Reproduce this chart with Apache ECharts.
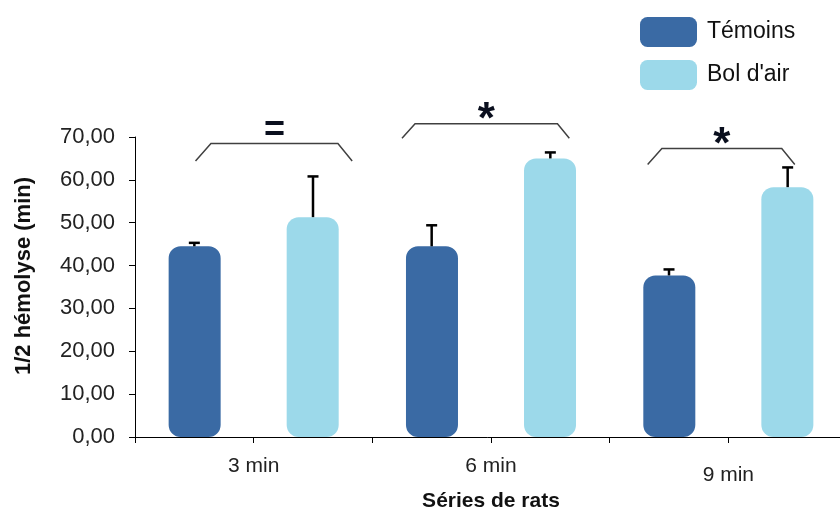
<!DOCTYPE html>
<html>
<head>
<meta charset="utf-8">
<title>Demi-hémolyse</title>
<script src="https://cdn.jsdelivr.net/npm/echarts@6.0.0/dist/echarts.min.js"></script>
<style>
  html, body { margin: 0; padding: 0; background: #fff; }
  #myChart { width: 840px; height: 508px; }
</style>
</head>
<body>
<div id="myChart"></div>
<script>
  // séries de rats
  var categories = ['3 min', '6 min', '9 min'];
  var temoins = [44.5, 44.5, 37.7];
  var temoinsErr = [0.8, 4.9, 1.4];
  var bolAir = [51.3, 65.0, 58.3];
  var bolAirErr = [9.5, 1.4, 4.6];

  // accolades de significativité (x en demi-catégories sur l'axe secondaire)
  var sigLabels = ['=', '*', '*'];
  var sigFootX = [[0.51, 1.83], [2.25, 3.66], [4.32, 5.56]];
  var sigTopX = [[0.64, 1.71], [2.36, 3.56], [4.44, 5.45]];
  var sigTopY = [68.5, 73.1, 67.3];
  var sigFootY = [64.4, 69.7, 63.6];

  var FONT = '"Liberation Sans", Arial, sans-serif';
  var DARK = '#3A6AA4';
  var LIGHT = '#9CD9EA';

  function errorBar(side) {
    return function (params, api) {
      var base = api.coord([api.value(0), api.value(1)]);
      var top = api.coord([api.value(0), api.value(2)]);
      var x = base[0] + api.size([1, 0])[0] * 0.25 * side;
      var st = { stroke: '#000', lineWidth: 2.5 };
      return {
        type: 'group',
        children: [
          { type: 'line', shape: { x1: x, y1: base[1], x2: x, y2: top[1] }, style: st },
          { type: 'line', shape: { x1: x - 5.5, y1: top[1], x2: x + 5.5, y2: top[1] }, style: st }
        ]
      };
    };
  }

  function bracket(params, api) {
    var i = params.dataIndex;
    var p0 = api.coord([sigFootX[i][0], sigFootY[i]]);
    var p1 = api.coord([sigTopX[i][0], sigTopY[i]]);
    var p2 = api.coord([sigTopX[i][1], sigTopY[i]]);
    var p3 = api.coord([sigFootX[i][1], sigFootY[i]]);
    var star = sigLabels[i] === '*';
    return {
      type: 'group',
      children: [
        { type: 'polyline', shape: { points: [p0, p1, p2, p3] }, style: { stroke: '#404040', lineWidth: 1.5, fill: null } },
        {
          type: 'text',
          x: (p1[0] + p2[0]) / 2,
          y: p1[1] + (star ? 19 : 6),
          style: {
            text: sigLabels[i],
            fontFamily: FONT,
            fontSize: star ? 44 : 36,
            fontWeight: 'bold',
            fill: '#0a0f1e',
            align: 'center',
            verticalAlign: 'bottom'
          }
        }
      ]
    };
  }

  var myChart = echarts.init(document.getElementById('myChart'));
  var option = {
    animation: false,
    textStyle: { fontFamily: FONT },
    legend: {
      data: ['Témoins', "Bol d'air"],
      orient: 'vertical',
      left: 635,
      top: 12,
      itemWidth: 57,
      itemHeight: 30,
      itemGap: 13,
      icon: 'roundRect',
      textStyle: { fontSize: 23, color: '#111', fontFamily: FONT, padding: [0, 0, 0, 5] }
    },
    grid: { left: 135, right: -7, top: 137, bottom: 71, outerBoundsMode: 'none', containLabel: false },
    xAxis: [
      {
        type: 'category',
        data: categories,
        axisLine: { lineStyle: { color: '#000', width: 1 } },
        axisTick: { show: false },
        axisLabel: {
          margin: 19,
          fontSize: 21,
          color: '#222',
          formatter: function (v, i) { return i === 2 ? '{low|' + v + '}' : v; },
          rich: { low: { fontSize: 21, color: '#222', padding: [9, 0, 0, 0] } }
        },
        name: 'Séries de rats',
        nameLocation: 'middle',
        nameGap: 43,
        nameTextStyle: { fontSize: 21, fontWeight: 'bold', color: '#111' }
      },
      {
        type: 'value',
        min: 0,
        max: 6,
        interval: 1,
        position: 'bottom',
        axisLine: { show: false },
        axisTick: { show: true, length: 6, lineStyle: { color: '#000' } },
        axisLabel: { show: false },
        splitLine: { show: false }
      }
    ],
    yAxis: {
      type: 'value',
      min: 0,
      max: 70,
      interval: 10,
      axisLine: { show: true, lineStyle: { color: '#000' } },
      axisTick: { show: true, length: 6, lineStyle: { color: '#000' } },
      axisLabel: {
        margin: 20,
        fontSize: 22,
        color: '#222',
        formatter: function (v) { return v.toFixed(2).replace('.', ','); }
      },
      splitLine: { show: false },
      name: '1/2 hémolyse (min)',
      nameLocation: 'middle',
      nameGap: 100,
      nameTextStyle: { fontSize: 22, fontWeight: 'bold', color: '#111', padding: [0, 0, 0, 22] }
    },
    series: [
      {
        name: 'Témoins',
        type: 'bar',
        data: temoins,
        barWidth: 52,
        barGap: '127%',
        itemStyle: { color: DARK, borderRadius: 12 }
      },
      {
        name: "Bol d'air",
        type: 'bar',
        data: bolAir,
        barWidth: 52,
        itemStyle: { color: LIGHT, borderRadius: 12 }
      },
      {
        type: 'custom',
        renderItem: errorBar(-1),
        data: temoins.map(function (v, i) { return [i, v, v + temoinsErr[i]]; }),
        z: 3
      },
      {
        type: 'custom',
        renderItem: errorBar(1),
        data: bolAir.map(function (v, i) { return [i, v, v + bolAirErr[i]]; }),
        z: 3
      },
      {
        type: 'custom',
        xAxisIndex: 1,
        clip: false,
        renderItem: bracket,
        data: sigLabels.map(function (s, i) { return [sigTopX[i][0], sigTopY[i]]; }),
        z: 4
      }
    ]
  };
  myChart.setOption(option);
</script>
</body>
</html>
